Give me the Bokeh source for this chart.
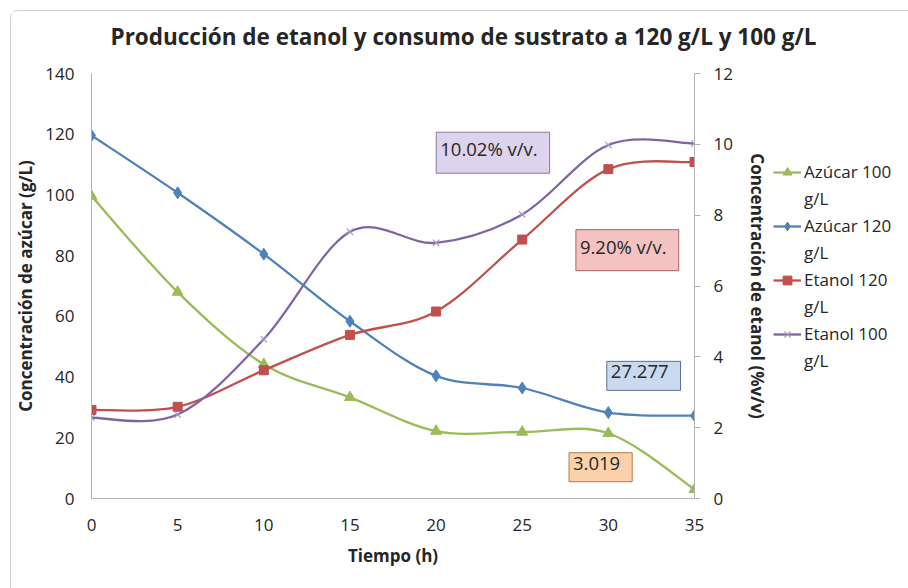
from bokeh.plotting import figure
from bokeh.layouts import row, column
from bokeh.models import (Range1d, LinearAxis, FixedTicker, Legend, LegendItem,
                          Label, ColumnDataSource)
from bokeh.embed import file_html
from bokeh.resources import INLINE

# ---------------- data ----------------
tiempo = [0, 5, 10, 15, 20, 25, 30, 35]
azucar_100 = [99.6, 68.0, 44.2, 33.3, 22.2, 21.9, 21.5, 3.019]
azucar_120 = [119.6, 100.7, 80.5, 58.4, 40.4, 36.4, 28.3, 27.277]
etanol_120 = [2.50, 2.59, 3.62, 4.62, 5.28, 7.31, 9.30, 9.50]
etanol_100 = [2.28, 2.37, 4.50, 7.53, 7.22, 8.02, 9.98, 10.02]

x_ticks = [0, 5, 10, 15, 20, 25, 30, 35]
azucar_ticks = [0, 20, 40, 60, 80, 100, 120, 140]
etanol_ticks = [0, 2, 4, 6, 8, 10, 12]

titulo = "Producción de etanol y consumo de sustrato a 120 g/L y 100 g/L"
eje_x = "Tiempo (h)"
eje_izq = "Concentración de azúcar (g/L)"
eje_der = "Concentración de etanol (%v/v)"

series_names = ["Azúcar 100", "Azúcar 120", "Etanol 120", "Etanol 100"]
unit_line = "g/L"

# annotation boxes: (text, x, y in left-axis units, fill, border)
notas = [
    ("10.02% v/v.", 23.3, 113.9, "#ddd3ec", "#8a78a8"),
    ("9.20% v/v.", 31.1, 81.8, "#f3c3c2", "#b06060"),
    ("27.277", 32.05, 40.4, "#c9daf0", "#5a7090"),
    ("3.019", 29.55, 10.3, "#fbd1ab", "#b07a48"),
]

FONT = "Open Sans"
TXT = "#262626"

# ---------------- title strip ----------------
t = figure(width=898, height=48, output_backend="svg", toolbar_location=None,
           x_range=Range1d(0, 1), y_range=Range1d(0, 1),
           x_axis_location=None, y_axis_location=None,
           min_border_left=80, min_border_right=0, min_border_top=40,
           min_border_bottom=0)
t.outline_line_color = None
t.grid.visible = False
t.title.text = titulo
t.title.text_font = FONT
t.title.text_font_size = "22.5px"
t.title.text_font_style = "bold"
t.title.text_color = TXT
t.title.align = "left"
t.title.offset = 19
t.title.standoff = 0

# ---------------- main chart ----------------
p = figure(width=760, height=530, output_backend="svg", toolbar_location=None,
           x_range=Range1d(0, 35), y_range=Range1d(0, 140),
           min_border_left=80, min_border_right=76, min_border_top=14,
           min_border_bottom=91)
p.outline_line_color = None
p.grid.visible = False
p.background_fill_color = "white"
p.border_fill_color = "white"
p.extra_y_ranges = {"eth": Range1d(0, 12)}


def style_axis(ax, ticks, label):
    ax.ticker = FixedTicker(ticks=ticks)
    ax.axis_label = label
    ax.axis_label_text_font = FONT
    ax.axis_label_text_font_style = "bold"
    ax.axis_label_text_font_size = "17px"
    ax.axis_label_text_color = TXT
    ax.major_label_text_font = FONT
    ax.major_label_text_font_size = "17px"
    ax.major_label_text_color = TXT
    ax.axis_line_color = "#b3b3b3"
    ax.major_tick_line_color = "#b3b3b3"
    ax.minor_tick_line_color = None
    ax.major_tick_in = 0


xa = p.xaxis[0]
style_axis(xa, x_ticks, eje_x)
xa.major_tick_out = 0
xa.major_label_standoff = 20
xa.axis_label_standoff = 10

ya = p.yaxis[0]
style_axis(ya, azucar_ticks, eje_izq)
ya.major_tick_out = 0
ya.major_label_standoff = 17
ya.axis_label_standoff = 5

ra = LinearAxis(y_range_name="eth")
style_axis(ra, etanol_ticks, eje_der)
ra.major_tick_out = 6
ra.major_label_standoff = 13
ra.axis_label_standoff = 10
p.add_layout(ra, "right")


def bezier_data(xs, ys):
    n = len(xs)
    d = dict(x0=[], y0=[], x1=[], y1=[], cx0=[], cy0=[], cx1=[], cy1=[])
    for i in range(n - 1):
        a = max(i - 1, 0)
        b = min(i + 2, n - 1)
        d["x0"].append(xs[i]); d["y0"].append(ys[i])
        d["x1"].append(xs[i + 1]); d["y1"].append(ys[i + 1])
        d["cx0"].append(xs[i] + (xs[i + 1] - xs[a]) / 6)
        d["cy0"].append(ys[i] + (ys[i + 1] - ys[a]) / 6)
        d["cx1"].append(xs[i + 1] - (xs[b] - xs[i]) / 6)
        d["cy1"].append(ys[i + 1] - (ys[b] - ys[i]) / 6)
    return ColumnDataSource(d)


series = [
    (series_names[0], azucar_100, "default", "#9bbb59", "triangle", 11),
    (series_names[1], azucar_120, "default", "#4f81bd", "diamond", 12),
    (series_names[2], etanol_120, "eth", "#c0504d", "square", 9),
    (series_names[3], etanol_100, "eth", "#8064a2", "x", 9),
]


def draw_series(fig, ys, rng, col, mk, sz):
    bz = fig.bezier(x0="x0", y0="y0", x1="x1", y1="y1", cx0="cx0", cy0="cy0",
                    cx1="cx1", cy1="cy1", source=bezier_data(tiempo, ys),
                    line_color=col, line_width=2.3, y_range_name=rng)
    if mk == "x":
        sc = fig.scatter(tiempo, ys, marker=mk, size=sz, line_color="#a898cc",
                         line_width=1.2, y_range_name=rng)
    else:
        sc = fig.scatter(tiempo, ys, marker=mk, size=sz, fill_color=col,
                         line_color=col, y_range_name=rng)
    return bz, sc


for name, ys, rng, col, mk, sz in series:
    draw_series(p, ys, rng, col, mk, sz)

for txt, x, y, fill, border in notas:
    shadow = Label(x=x, y=y, text=txt, text_font=FONT, text_font_size="18.5px",
                   text_align="center", text_baseline="middle", text_alpha=0,
                   x_offset=3, y_offset=-3, padding=(4, 12, 4, 12),
                   background_fill_color="#808080", background_fill_alpha=0.45)
    p.add_layout(shadow)
    lab = Label(x=x, y=y, text=txt, text_font=FONT, text_font_size="18.5px",
                text_color=TXT, text_align="center", text_baseline="middle",
                padding=(4, 12, 4, 12), background_fill_color=fill,
                border_line_color=border, border_line_width=1)
    p.add_layout(lab)

# ---------------- legend panel (separate canvas to the right) ----------------
q = figure(width=138, height=530, output_backend="svg", toolbar_location=None,
           x_range=Range1d(100, 101), y_range=Range1d(100, 101),
           x_axis_location=None, y_axis_location=None,
           min_border=0, min_border_left=0, min_border_right=0,
           min_border_top=0, min_border_bottom=0)
q.extra_y_ranges = {"eth": Range1d(100, 101)}
q.outline_line_color = None
q.grid.visible = False
q.border_fill_color = "white"

blank = q.scatter(x=tiempo, y=azucar_100, size=1, fill_alpha=0, line_alpha=0)
items = []
for name, ys, rng, col, mk, sz in series:
    bz, sc = draw_series(q, ys, rng, col, mk, sz)
    items.append(LegendItem(label=name, renderers=[bz, sc]))
    items.append(LegendItem(label=unit_line, renderers=[blank]))

legend = Legend(items=items, location=(2, 126), label_text_font=FONT,
                label_text_font_size="17px", label_text_color=TXT,
                glyph_width=28, glyph_height=22, label_height=22,
                label_standoff=3, spacing=4, padding=0, margin=0,
                border_line_color=None, background_fill_alpha=0)
q.add_layout(legend, "center")

layout = column(t, row(p, q, spacing=0), spacing=0, margin=(10, 0, 0, 10),
                styles={"border-left": "1.5px solid #cfcfcf",
                        "border-top": "1.5px solid #cfcfcf",
                        "border-top-left-radius": "8px"})

open("out.html", "w").write(file_html(layout, INLINE))
